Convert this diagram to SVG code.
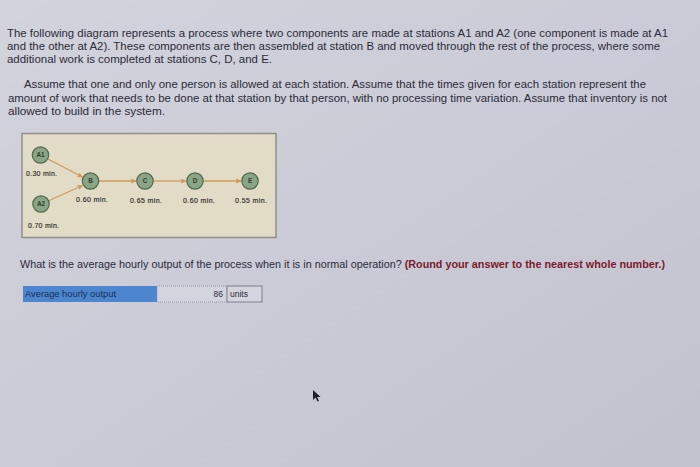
<svg xmlns="http://www.w3.org/2000/svg" width="700" height="467" viewBox="0 0 700 467">
<defs>
<linearGradient id="bg" x1="0" y1="0" x2="1" y2="1">
<stop offset="0" stop-color="#d3d3dc"/>
<stop offset="0.5" stop-color="#cbcbd7"/>
<stop offset="1" stop-color="#c2c2cf"/>
</linearGradient>
<marker id="ah" viewBox="0 0 10 10" refX="9" refY="5" markerWidth="4" markerHeight="4" orient="auto">
<path d="M0,0 L10,5 L0,10 z" fill="#d19a5a"/>
</marker>
<style>
.t{font-family:"Liberation Sans",Arial,sans-serif;font-size:11.3px;fill:#2b2b38}
.q{font-family:"Liberation Sans",Arial,sans-serif;font-size:10px;fill:#2b2b38}
.qb{font-weight:bold;fill:#7a1a2a}
.node circle{fill:#8aa585;stroke:#4f6a4c;stroke-width:1.2}
.node text{font-family:"Liberation Sans",Arial,sans-serif;font-size:6.3px;font-weight:bold;fill:#2f3b2f;text-anchor:middle}
.node text.lbl{font-size:7px;font-weight:normal;fill:#2a2a2a;text-anchor:start;stroke:#2a2a2a;stroke-width:0.15}
.edge{stroke:#d19a5a;stroke-width:1.3;fill:none;marker-end:url(#ah)}
.f{font-family:"Liberation Sans",Arial,sans-serif;font-size:8.5px;fill:#2b2b38}
</style>
</defs>
<rect width="700" height="467" fill="url(#bg)"/>
<text class="t" x="7" y="37" textLength="661" lengthAdjust="spacingAndGlyphs">The following diagram represents a process where two components are made at stations A1 and A2 (one component is made at A1</text>
<text class="t" x="7" y="50" textLength="653" lengthAdjust="spacingAndGlyphs">and the other at A2). These components are then assembled at station B and moved through the rest of the process, where some</text>
<text class="t" x="7" y="63" textLength="265" lengthAdjust="spacingAndGlyphs">additional work is completed at stations C, D, and E.</text>
<text class="t" x="24" y="88" textLength="622" lengthAdjust="spacingAndGlyphs">Assume that one and only one person is allowed at each station. Assume that the times given for each station represent the</text>
<text class="t" x="8" y="102" textLength="659" lengthAdjust="spacingAndGlyphs">amount of work that needs to be done at that station by that person, with no processing time variation. Assume that inventory is not</text>
<text class="t" x="8" y="115" textLength="157" lengthAdjust="spacingAndGlyphs">allowed to build in the system.</text>
<rect x="22" y="133.5" width="254" height="104" fill="#e2dcc6" stroke="#8f8f8f" stroke-width="1.5"/>
<g id="connectors">
<line class="edge" x1="48" y1="159" x2="82.5" y2="177"/>
<line class="edge" x1="48" y1="201" x2="82.5" y2="185.5"/>
<line class="edge" x1="99" y1="181" x2="136" y2="181"/>
<line class="edge" x1="154" y1="181" x2="186" y2="181"/>
<line class="edge" x1="204" y1="181" x2="241" y2="181"/>
</g>
<g id="A1" class="node"><circle cx="40.5" cy="155" r="8.2"/><text x="40.5" y="157.3">A1</text><text class="lbl" x="26" y="175.5" textLength="31">0.30 min.</text></g>
<g id="A2" class="node"><circle cx="41" cy="204" r="8.2"/><text x="41" y="206.3">A2</text><text class="lbl" x="28" y="228" textLength="31">0.70 min.</text></g>
<g id="B" class="node"><circle cx="90.5" cy="181" r="8.2"/><text x="90.5" y="183.3">B</text><text class="lbl" x="76" y="201.5" textLength="32">0.60 min.</text></g>
<g id="C" class="node"><circle cx="145" cy="181" r="8.2"/><text x="145" y="183.3">C</text><text class="lbl" x="130" y="203" textLength="32">0.65 min.</text></g>
<g id="D" class="node"><circle cx="195" cy="181" r="8.2"/><text x="195" y="183.3">D</text><text class="lbl" x="183" y="203" textLength="32">0.60 min.</text></g>
<g id="E" class="node"><circle cx="250" cy="181" r="8.2"/><text x="250" y="183.3">E</text><text class="lbl" x="235" y="203" textLength="32">0.55 min.</text></g>
<text class="q" x="20" y="268" textLength="645" lengthAdjust="spacingAndGlyphs">What is the average hourly output of the process when it is in normal operation? <tspan class="qb">(Round your answer to the nearest whole number.)</tspan></text>
<rect x="23" y="286" width="134" height="16" fill="#4b86cf"/>
<text class="f" x="25" y="297" textLength="91" lengthAdjust="spacingAndGlyphs" style="fill:#1d2f55">Average hourly output</text>
<rect x="157" y="286" width="70" height="16" fill="#d4d4de" stroke="#8a8a9a" stroke-width="0.8" stroke-dasharray="1,1"/>
<text class="f" x="223" y="297" text-anchor="end">86</text>
<rect x="227" y="286" width="35" height="16" fill="#d4d4de" stroke="#6a6a7a" stroke-width="0.8"/>
<text class="f" x="230" y="297">units</text>
<path d="M313,390 L313,400 L315.5,397.5 L317.5,401.5 L319,400.8 L317,397 L320.5,397 Z" fill="#1e1e2a"/>
</svg>
